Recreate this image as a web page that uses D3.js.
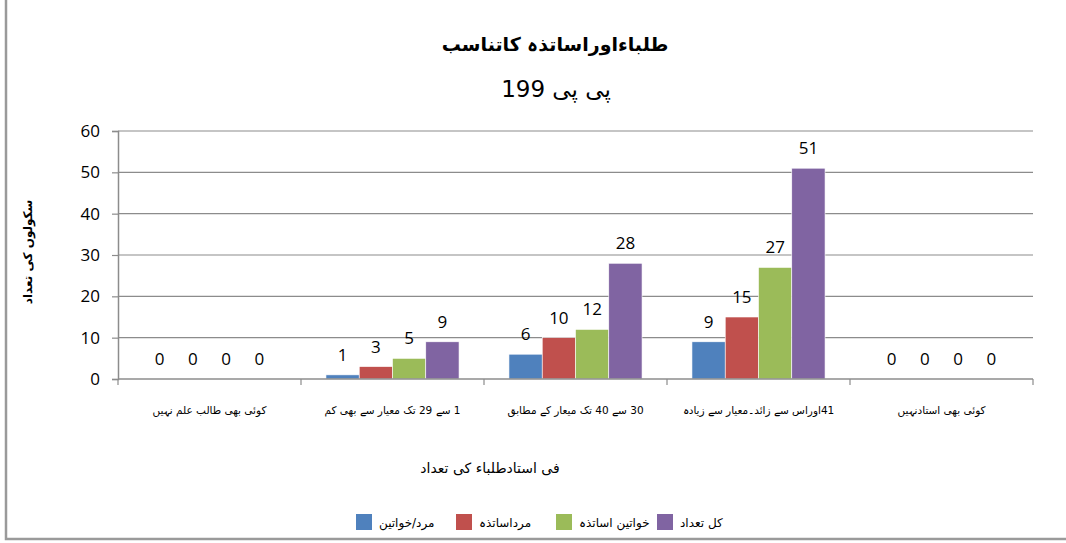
<!DOCTYPE html>
<html>
<head>
<meta charset="utf-8">
<script src="https://cdn.jsdelivr.net/npm/d3@7"></script>
<style>
  body { margin: 0; background: #fff; }
  text { font-family: "Open Sans", "Liberation Sans", sans-serif; }
  .ur { font-family: "DejaVu Sans", "Noto Sans", sans-serif; }
</style>
</head>
<body>
<div id="chart"></div>
<script>
// data
const categories = ["کوئی بھی طالب علم نہیں", "1 سے 29 تک معیار سے بھی کم", "30 سے 40 تک میعار کے مطابق", "41اوراس سے زائد۔معیار سے زیادہ", "کوئی بھی استادنہیں"];
const seriesNames = ["مرد/خواتین", "مرداساتذہ", "خواتین اساتذہ", "کل تعداد"];
const seriesColors = ["#4F81BD", "#C0504D", "#9BBB59", "#8064A2"];
const mixed = [0, 1, 6, 9, 0];
const maleTeachers = [0, 3, 10, 15, 0];
const femaleTeachers = [0, 5, 12, 27, 0];
const total = [0, 9, 28, 51, 0];
const yTicks = [0, 10, 20, 30, 40, 50, 60];
const title1 = "طلباءاوراساتذہ کاتناسب";
const title2 = "پی پی 199";
const yTitle = "سکولوں کی تعداد";
const xTitle = "فی استادطلباء کی تعداد";

const values = [mixed, maleTeachers, femaleTeachers, total];

const W = 1066, H = 543;
const svg = d3.select("#chart").append("svg").attr("width", W).attr("height", H);

// outer frame (only left + bottom visible)
svg.append("path")
  .attr("d", "M6,0 V539 H1066")
  .attr("fill", "none").attr("stroke", "#9a9a9a").attr("stroke-width", 2.5);

const x = d3.scaleBand().domain(d3.range(categories.length)).range([118, 1033]).padding(0);
const xs = d3.scaleBand().domain(d3.range(seriesNames.length)).range([0, x.bandwidth()]).paddingInner(0).paddingOuter(0.75);
const y = d3.scaleLinear().domain([0, 60]).range([379, 131]);

// gridlines
svg.append("g").selectAll("line").data(yTicks.filter(d => d > 0)).enter().append("line")
  .attr("x1", 118).attr("x2", 1033)
  .attr("y1", d => y(d)).attr("y2", d => y(d))
  .attr("stroke", "#8c8c8c").attr("stroke-width", 1.2);

// y axis
const yAxis = svg.append("g").attr("transform", "translate(118,0)")
  .call(d3.axisLeft(y).tickValues(yTicks).tickSize(6).tickPadding(12));
yAxis.select(".domain").attr("stroke", "#8c8c8c").attr("stroke-width", 1.5);
yAxis.selectAll(".tick line").attr("stroke", "#8c8c8c").attr("stroke-width", 1.2);
yAxis.selectAll(".tick text").attr("font-size", 17).attr("fill", "#000")
  .style("font-family", "'Open Sans', 'Liberation Sans', sans-serif");

// bars
values.forEach((vals, s) => {
  const g = svg.append("g");
  g.selectAll("rect").data(vals).enter().append("rect")
    .attr("x", (d, i) => x(i) + xs(s))
    .attr("width", xs.bandwidth())
    .attr("y", d => y(d))
    .attr("height", d => y(0) - y(d))
    .attr("fill", seriesColors[s])
    .attr("stroke", "#fff").attr("stroke-width", 0.6);
  g.selectAll("text").data(vals).enter().append("text")
    .attr("x", (d, i) => x(i) + xs(s) + xs.bandwidth() / 2)
    .attr("y", d => y(d) - 14)
    .attr("text-anchor", "middle")
    .attr("font-size", 17)
    .attr("fill", "#000")
    .text(d => d);
});

// x axis
svg.append("line").attr("x1", 118).attr("x2", 1033).attr("y1", 379).attr("y2", 379)
  .attr("stroke", "#8c8c8c").attr("stroke-width", 1.5);
const bounds = d3.range(categories.length + 1).map(i => 118 + i * x.step());
svg.append("g").selectAll("line").data(bounds).enter().append("line")
  .attr("x1", d => d).attr("x2", d => d).attr("y1", 379).attr("y2", 385)
  .attr("stroke", "#8c8c8c").attr("stroke-width", 1.2);

svg.append("g").selectAll("text").data(categories).enter().append("text")
  .attr("class", "ur")
  .attr("x", (d, i) => x(i) + x.bandwidth() / 2)
  .attr("y", 414)
  .attr("text-anchor", "middle")
  .attr("direction", "rtl")
  .attr("font-size", 10.5)
  .attr("fill", "#000")
  .text(d => d);

// titles
svg.append("text").attr("class", "ur")
  .attr("x", 555).attr("y", 51).attr("text-anchor", "middle").attr("direction", "rtl")
  .attr("font-size", 19).attr("font-weight", "bold").text(title1);
svg.append("text").attr("class", "ur")
  .attr("x", 556).attr("y", 97).attr("text-anchor", "middle").attr("direction", "rtl")
  .attr("font-size", 23).text(title2);

svg.append("text").attr("class", "ur")
  .attr("transform", "translate(32,252) rotate(-90)")
  .attr("text-anchor", "middle").attr("direction", "rtl")
  .attr("font-size", 12).attr("font-weight", "bold").text(yTitle);

svg.append("text").attr("class", "ur")
  .attr("x", 490).attr("y", 473).attr("text-anchor", "middle").attr("direction", "rtl")
  .attr("font-size", 14).text(xTitle);

// legend
const legendX = [356, 456, 556, 657];
const lg = svg.append("g").selectAll("g").data(seriesNames).enter().append("g")
  .attr("transform", (d, i) => `translate(${legendX[i]},514)`);
lg.append("rect").attr("width", 16).attr("height", 16).attr("fill", (d, i) => seriesColors[i]);
lg.append("text").attr("class", "ur")
  .attr("x", 23).attr("y", 13)
  .attr("font-size", 12).attr("fill", "#000")
  .attr("text-anchor", "start")
  .text(d => d);
</script>
</body>
</html>
